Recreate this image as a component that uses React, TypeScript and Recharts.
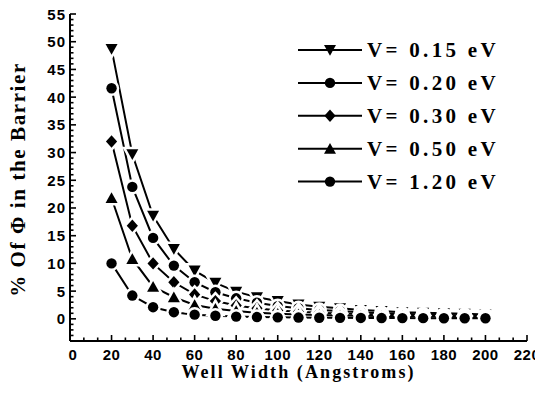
import React from 'react';
import { LineChart, Line, XAxis, YAxis, Legend } from 'recharts';

// Well widths (Angstroms)
const wellWidths = [20, 30, 40, 50, 60, 70, 80, 90, 100, 110, 120, 130, 140, 150, 160, 170, 180, 190, 200];

// Percentage of the wavefunction found in the barrier, per barrier height
const barrier015 = [48.7, 29.7, 18.6, 12.6, 8.7, 6.5, 4.9, 3.9, 3.2, 2.6, 2.2, 1.9, 1.6, 1.4, 1.2, 1.1, 1.0, 0.9, 0.8];
const barrier020 = [41.6, 23.8, 14.6, 9.6, 6.6, 4.8, 3.7, 2.9, 2.3, 1.9, 1.6, 1.4, 1.2, 1.0, 0.9, 0.8, 0.7, 0.65, 0.6];
const barrier030 = [32.0, 16.8, 10.0, 6.6, 4.4, 3.2, 2.4, 1.9, 1.5, 1.3, 1.1, 0.95, 0.85, 0.75, 0.65, 0.6, 0.55, 0.5, 0.45];
const barrier050 = [21.8, 10.8, 5.8, 3.9, 2.5, 1.8, 1.4, 1.1, 0.9, 0.8, 0.7, 0.6, 0.55, 0.5, 0.45, 0.4, 0.38, 0.35, 0.32];
const barrier120 = [10.0, 4.2, 2.1, 1.2, 0.75, 0.55, 0.4, 0.32, 0.27, 0.23, 0.2, 0.18, 0.16, 0.14, 0.13, 0.12, 0.11, 0.1, 0.1];

const seriesNames = ['V= 0.15 eV', 'V= 0.20 eV', 'V= 0.30 eV', 'V= 0.50 eV', 'V= 1.20 eV'];

// Axis tick labels
const xTickLabels = [0, 20, 40, 60, 80, 100, 120, 140, 160, 180, 200, 220];
const yTickLabels = [0, 5, 10, 15, 20, 25, 30, 35, 40, 45, 50, 55];

const X_MIN = 0;
const X_MAX = 220;
const Y_MIN = -4;
const Y_MAX = 55;

// Minor ticks: two between each labelled x tick, one per unit on y
const xTicks: number[] = [];
for (let i = 0; i < xTickLabels.length - 1; i++) {
  const a = xTickLabels[i];
  const b = xTickLabels[i + 1];
  xTicks.push(a, a + (b - a) / 3, a + (2 * (b - a)) / 3);
}
xTicks.push(xTickLabels[xTickLabels.length - 1]);
const yTicks: number[] = [];
for (let v = Y_MIN; v <= Y_MAX; v++) yTicks.push(v);

const keys = ['b015', 'b020', 'b030', 'b050', 'b120'];
const columns = [barrier015, barrier020, barrier030, barrier050, barrier120];
const data = wellWidths.map((w, i) => {
  const row: Record<string, number> = { w };
  keys.forEach((k, j) => {
    row[k] = columns[j][i];
  });
  return row;
});

type Shape = 'down' | 'circle' | 'diamond' | 'up';
const shapes: Shape[] = ['down', 'circle', 'diamond', 'up', 'circle'];

const FONT_TICK = 'Liberation Sans, Arial, sans-serif';
const FONT_TITLE = 'Liberation Serif, Times New Roman, serif';

function Marker({ shape, cx, cy, halo }: { shape: Shape; cx: number; cy: number; halo: boolean }) {
  const style = {
    fill: '#000',
    stroke: halo ? '#fff' : 'none',
    strokeWidth: halo ? 5 : 0,
    paintOrder: 'stroke' as const,
  };
  if (shape === 'circle') return <circle cx={cx} cy={cy} r={5.2} style={style} />;
  let pts: number[][];
  if (shape === 'down') pts = [[-6, -5], [6, -5], [0, 5.8]];
  else if (shape === 'up') pts = [[-6, 5], [6, 5], [0, -5.8]];
  else pts = [[0, -6.2], [5.6, 0], [0, 6.2], [-5.6, 0]];
  return <polygon points={pts.map(([dx, dy]) => `${cx + dx},${cy + dy}`).join(' ')} style={style} />;
}

const isMajorX = (v: number) => xTickLabels.some((t) => Math.abs(t - v) < 1e-6);
const isMajorY = (v: number) => yTickLabels.includes(v);

function BottomTick(props: any) {
  const { x, y, payload } = props;
  const v = payload.value as number;
  const major = isMajorX(v);
  return (
    <g>
      <line x1={x} x2={x} y1={y} y2={y - (major ? 6 : 3.5)} stroke="#000" strokeWidth={1.6} />
      {major && (
        <text x={v === 0 ? x + 3 : x} y={y + 18.5} textAnchor="middle" fontFamily={FONT_TICK} fontWeight="bold" fontSize={15} letterSpacing={0.5} fill="#000">
          {Math.round(v)}
        </text>
      )}
    </g>
  );
}

function TopTick(props: any) {
  const { x, y, payload } = props;
  const major = isMajorX(payload.value);
  return <line x1={x} x2={x} y1={y} y2={y + (major ? 6 : 3.5)} stroke="#000" strokeWidth={1.6} />;
}

function LeftTick(props: any) {
  const { x, y, payload } = props;
  const v = payload.value as number;
  const major = isMajorY(v);
  return (
    <g>
      <line x1={x} x2={x + (major ? 6 : 3.5)} y1={y} y2={y} stroke="#000" strokeWidth={1.6} />
      {major && (
        <text x={x - 4} y={y + 5.5} textAnchor="end" fontFamily={FONT_TICK} fontWeight="bold" fontSize={15} letterSpacing={1} fill="#000">
          {v}
        </text>
      )}
    </g>
  );
}

function RightTick(props: any) {
  const { x, y, payload } = props;
  const major = isMajorY(payload.value);
  return <line x1={x} x2={x - (major ? 6 : 3.5)} y1={y} y2={y} stroke="#000" strokeWidth={1.6} />;
}

function LegendBox(props: any) {
  const payload = (props.payload || []) as any[];
  const entries = seriesNames.map((name, i) => ({ name, shape: shapes[i] }));
  const named = payload.length ? entries.filter((e) => payload.some((p) => p.value === e.name)) : entries;
  return (
    <svg width={240} height={170} style={{ display: 'block' }}>
      {named.map((e, i) => {
        const cy = 17 + i * 32.9;
        return (
          <g key={e.name}>
            <line x1={2} x2={66} y1={cy} y2={cy} stroke="#000" strokeWidth={2} />
            <Marker shape={e.shape} cx={34} cy={cy} halo={false} />
            <text x={71} y={cy + 7} fontFamily={FONT_TITLE} fontWeight="bold" fontSize={21} letterSpacing={3.3} fill="#000">
              {e.name}
            </text>
          </g>
        );
      })}
    </svg>
  );
}

export default function App() {
  return (
    <div style={{ margin: '-8px 0 0 -8px', width: 543, height: 389 }}>
      <LineChart
        width={543}
        height={389}
        data={data}
        margin={{ top: 14, right: 16, bottom: 0, left: 0 }}
      >
        <XAxis
          dataKey="w"
          type="number"
          domain={[X_MIN, X_MAX]}
          ticks={xTicks}
          interval={0}
          allowDataOverflow
          height={48}
          tickSize={0}
          tickMargin={0}
          tickLine={false}
          axisLine={{ stroke: '#000', strokeWidth: 2 }}
          tick={<BottomTick />}
          label={(lp: any) => {
            const vb = lp.viewBox || { x: 70, y: 341, width: 457, height: 48 };
            return (
              <text
                x={vb.x + vb.width / 2}
                y={vb.y + 36.5}
                textAnchor="middle"
                fontFamily={FONT_TITLE}
                fontWeight="bold"
                fontSize={18}
                letterSpacing={2.1}
                fill="#000"
              >
                Well Width (Angstroms)
              </text>
            );
          }}
        />
        <XAxis
          xAxisId="top"
          orientation="top"
          type="number"
          domain={[X_MIN, X_MAX]}
          ticks={xTicks}
          interval={0}
          allowDataOverflow
          height={0}
          tickSize={0}
          tickMargin={0}
          tickLine={false}
          axisLine={{ stroke: '#000', strokeWidth: 2 }}
          tick={<TopTick />}
        />
        <YAxis
          type="number"
          domain={[Y_MIN, Y_MAX]}
          ticks={yTicks}
          interval={0}
          allowDataOverflow
          width={70}
          tickSize={0}
          tickMargin={0}
          tickLine={false}
          axisLine={{ stroke: '#000', strokeWidth: 2 }}
          tick={<LeftTick />}
          label={(lp: any) => {
            const vb = lp.viewBox || { x: 0, y: 14, width: 70, height: 327 };
            const cx = 18;
            const cy = vb.y + vb.height / 2 + 2;
            return (
              <text
                x={cx}
                y={cy}
                transform={`rotate(-90, ${cx}, ${cy})`}
                textAnchor="middle"
                dominantBaseline="central"
                fontFamily={FONT_TITLE}
                fontWeight="bold"
                fontSize={21}
                letterSpacing={1.6}
                fill="#000"
              >
                % Of Φ in the Barrier
              </text>
            );
          }}
        />
        <YAxis
          yAxisId="right"
          orientation="right"
          type="number"
          domain={[Y_MIN, Y_MAX]}
          ticks={yTicks}
          interval={0}
          allowDataOverflow
          width={0}
          tickSize={0}
          tickMargin={0}
          tickLine={false}
          axisLine={{ stroke: '#000', strokeWidth: 2 }}
          tick={<RightTick />}
        />
        <Legend
          layout="horizontal"
          verticalAlign="middle"
          align="center"
          content={<LegendBox />}
          wrapperStyle={{ left: 296, top: 33, width: 240, height: 170 }}
        />
        {keys.map((k, i) => (
          <Line
            key={k}
            dataKey={k}
            name={seriesNames[i]}
            type="linear"
            stroke="#000"
            strokeWidth={2}
            isAnimationActive={false}
            dot={(p: any) => <Marker key={`${k}-${p.index}`} shape={shapes[i]} cx={p.cx} cy={p.cy} halo />}
            activeDot={false}
          />
        ))}
      </LineChart>
    </div>
  );
}
